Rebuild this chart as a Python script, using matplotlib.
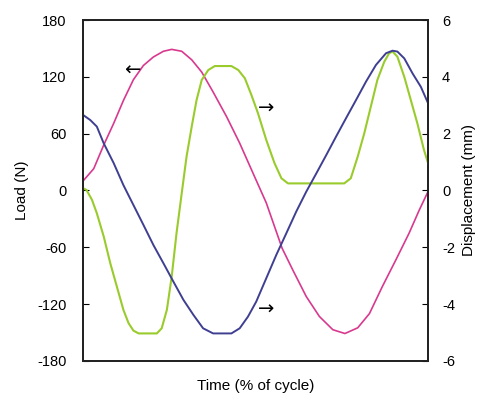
import numpy as np
import matplotlib.pyplot as plt

plt.rcParams['font.family'] = ['Liberation Sans', 'DejaVu Sans']
plt.rcParams['axes.unicode_minus'] = False

# load curve (left axis, N), time in fraction of cycle
load_t = [0.0, 0.031, 0.06, 0.089, 0.117, 0.146, 0.175, 0.204, 0.233, 0.257,
          0.286, 0.315, 0.344, 0.377, 0.416, 0.454, 0.493, 0.531, 0.577, 0.608,
          0.647, 0.685, 0.724, 0.759, 0.796, 0.83, 0.868, 0.907, 0.945, 0.974, 1.0]
load_v = [10, 23, 48, 71, 95, 117, 132, 141, 147, 149,
          147, 138, 125, 104, 78, 50, 18, -13, -61, -84,
          -112, -133, -147, -151, -145, -130, -101, -73, -45, -21, -1]

# displacement curves (right axis, mm)
green_t = [0.0, 0.01, 0.026, 0.04, 0.06, 0.079, 0.098, 0.117, 0.132, 0.146,
           0.161, 0.214, 0.228, 0.243, 0.257, 0.271, 0.286, 0.3, 0.315, 0.329,
           0.344, 0.363, 0.382, 0.43, 0.45, 0.469, 0.488, 0.507, 0.531, 0.555,
           0.575, 0.594, 0.757, 0.776, 0.796, 0.815, 0.834, 0.853, 0.873, 0.887,
           0.897, 0.911, 0.931, 0.95, 0.969, 0.988, 1.0]
green_v = [0.08, 0.02, -0.33, -0.8, -1.62, -2.56, -3.38, -4.2, -4.67, -4.93,
           -5.03, -5.03, -4.85, -4.2, -3.03, -1.5, -0.1, 1.19, 2.25, 3.18,
           3.89, 4.24, 4.38, 4.38, 4.24, 3.95, 3.36, 2.72, 1.78, 0.96,
           0.43, 0.25, 0.25, 0.43, 1.19, 2.01, 2.95, 3.89, 4.53, 4.83,
           4.89, 4.71, 4.0, 3.18, 2.36, 1.43, 0.96]

blue_t = [0.0, 0.021, 0.04, 0.06, 0.089, 0.117, 0.146, 0.175, 0.204, 0.233,
          0.262, 0.291, 0.32, 0.348, 0.377, 0.43, 0.454, 0.478, 0.502, 0.531,
          0.56, 0.589, 0.618, 0.647, 0.676, 0.705, 0.733, 0.762, 0.791, 0.82,
          0.849, 0.878, 0.897, 0.911, 0.931, 0.955, 0.979, 1.0]
blue_v = [2.66, 2.48, 2.25, 1.66, 0.96, 0.19, -0.51, -1.21, -1.92, -2.56,
          -3.21, -3.85, -4.38, -4.85, -5.03, -5.03, -4.85, -4.44, -3.91, -3.09,
          -2.27, -1.51, -0.74, -0.04, 0.6, 1.25, 1.89, 2.54, 3.18, 3.83,
          4.42, 4.83, 4.92, 4.89, 4.65, 4.12, 3.65, 3.07]

fig = plt.figure(figsize=(4.81, 3.94), dpi=100)
ax = fig.add_axes([0.1726, 0.0838, 0.7174, 0.8654])
ax2 = ax.twinx()

ax.plot(np.array(load_t) * 100, load_v, color='#d8398f', lw=1.2)
ax2.plot(np.array(green_t) * 100, green_v, color='#9acb2c', lw=1.5)
ax2.plot(np.array(blue_t) * 100, blue_v, color='#3f3f92', lw=1.4)

ax.set_xlim(0, 100)
ax.set_ylim(-180, 180)
ax2.set_ylim(-6, 6)
ax.set_yticks(np.arange(-180, 181, 60))
ax2.set_yticks(np.arange(-6, 7, 2))
ax.set_xticks([])

ax.tick_params(axis='y', direction='in', length=4, pad=12, labelsize=10.5)
ax2.tick_params(axis='y', direction='in', length=4, pad=10, labelsize=10.5)
for a in (ax, ax2):
    for s in a.spines.values():
        s.set_linewidth(1.3)
        s.set_color('#222222')

ax.set_ylabel('Load (N)', fontsize=11, labelpad=6)
ax2.set_ylabel('Displacement (mm)', fontsize=11, labelpad=5)
ax.set_xlabel('Time (% of cycle)', fontsize=11, labelpad=13)

# arrows pointing to the axis of each curve
ax.text(14.2, 127, '\u2190', fontsize=14, family='DejaVu Sans', ha='center', va='center')
ax2.text(53, 2.9, '\u2192', fontsize=14, family='DejaVu Sans', ha='center', va='center')
ax2.text(53, -4.17, '\u2192', fontsize=14, family='DejaVu Sans', ha='center', va='center')

fig.savefig('out.png', dpi=100)
